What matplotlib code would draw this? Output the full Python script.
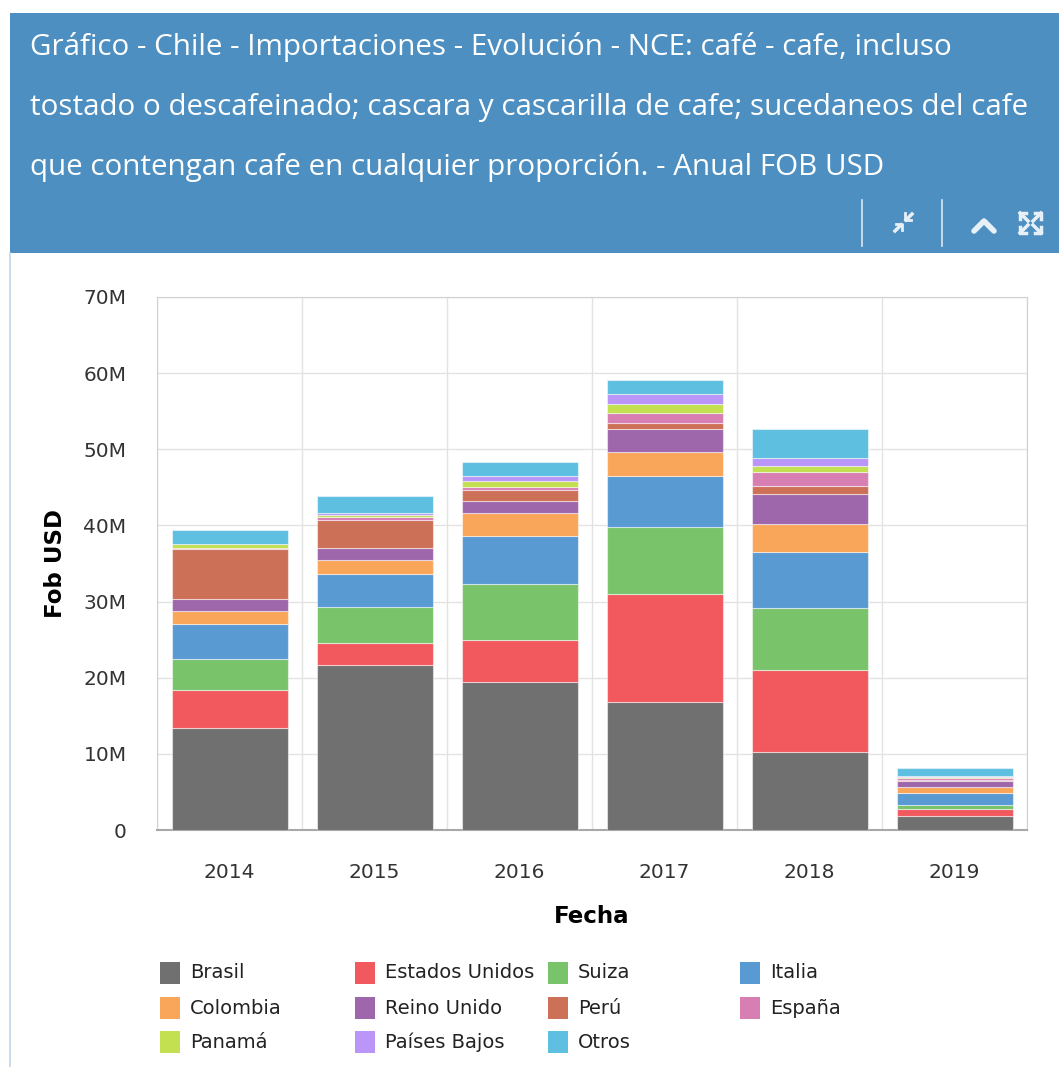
import numpy as np
import matplotlib
matplotlib.use("Agg")
import matplotlib.pyplot as plt
from matplotlib.patches import Rectangle
from matplotlib.lines import Line2D

# data (millions of USD FOB)
years = ["2014", "2015", "2016", "2017", "2018", "2019"]
countries = ["Brasil", "Estados Unidos", "Suiza", "Italia", "Colombia", "Reino Unido",
             "Perú", "España", "Panamá", "Países Bajos", "Otros"]
brasil = [13.4, 21.7, 19.4, 16.85, 10.2, 1.9]
estados_unidos = [5.0, 2.9, 5.6, 14.15, 10.8, 0.8]
suiza = [4.1, 4.7, 7.3, 8.75, 8.2, 0.6]
italia = [4.5, 4.3, 6.3, 6.75, 7.3, 1.5]
colombia = [1.8, 1.8, 3.0, 3.2, 3.7, 0.9]
reino_unido = [1.6, 1.6, 1.6, 3.0, 3.9, 0.7]
peru = [6.5, 3.7, 1.5, 0.8, 1.1, 0.2]
espana = [0.2, 0.4, 0.4, 1.3, 1.8, 0.2]
panama = [0.4, 0.3, 0.8, 1.1, 0.8, 0.2]
paises_bajos = [0.1, 0.2, 0.6, 1.3, 1.0, 0.1]
otros = [1.8, 2.3, 1.8, 1.9, 3.9, 1.0]
series = [brasil, estados_unidos, suiza, italia, colombia, reino_unido,
          peru, espana, panama, paises_bajos, otros]
colors = ["#707070", "#f1595f", "#79c36a", "#599ad3", "#f9a65a", "#9e66ab",
          "#cd7058", "#d77fb3", "#c2e04f", "#b996f7", "#5fbfe0"]

title_lines = ["Gráfico - Chile - Importaciones - Evolución - NCE: café - cafe, incluso",
               "tostado o descafeinado; cascara y cascarilla de cafe; sucedaneos del cafe",
               "que contengan cafe en cualquier proporción. - Anual FOB USD"]

W, H = 1059, 1067
fig = plt.figure(figsize=(W / 100, H / 100), dpi=100)
fig.patch.set_facecolor("white")

def fx(px):
    return px / W

def fy(py):
    return 1 - py / H

# header band
fig.add_artist(Rectangle((fx(10), fy(253)), fx(1049), (253 - 13) / H,
                         transform=fig.transFigure, color="#4e8fc1", lw=0))
fig.add_artist(Line2D([fx(10), fx(10)], [fy(253), 0], transform=fig.transFigure,
                      color="#c3d6e8", lw=1.2))
for i, line in enumerate(title_lines):
    fig.text(fx(30), fy(47 + 60 * i), line, color="white", fontsize=21.3,
             family="Open Sans", va="center", ha="left")

# header icons
for sx in (862, 942):
    fig.add_artist(Line2D([fx(sx), fx(sx)], [fy(200), fy(246)], transform=fig.transFigure,
                          color="#dbe7f2", lw=1.2))
ic = "#e8f0f7"
# compress
fig.add_artist(Line2D([fx(895), fx(901)], [fy(231), fy(225)], transform=fig.transFigure, color=ic, lw=2.5))
fig.add_artist(Line2D([fx(906), fx(912)], [fy(220), fy(214)], transform=fig.transFigure, color=ic, lw=2.5))
fig.add_artist(Line2D([fx(896), fx(902), fx(902)], [fy(224), fy(224), fy(230)], transform=fig.transFigure, color=ic, lw=2))
fig.add_artist(Line2D([fx(905), fx(905), fx(911)], [fy(213), fy(220), fy(220)], transform=fig.transFigure, color=ic, lw=2))
# caret
fig.add_artist(Line2D([fx(974), fx(984), fx(994)], [fy(231), fy(221), fy(231)], transform=fig.transFigure,
                      color=ic, lw=4, solid_capstyle="round", solid_joinstyle="round"))
# expand
for (cx, cy, dx, dy) in [(1020, 213, 1, 1), (1041, 213, -1, 1), (1020, 233, 1, -1), (1041, 233, -1, -1)]:
    fig.add_artist(Line2D([fx(cx), fx(cx + 8 * dx)], [fy(cy), fy(cy + 8 * dy)],
                          transform=fig.transFigure, color=ic, lw=2.5))
    fig.add_artist(Line2D([fx(cx + 6 * dx), fx(cx), fx(cx)], [fy(cy), fy(cy), fy(cy + 6 * dy)],
                          transform=fig.transFigure, color=ic, lw=2.5))

# chart
ax = fig.add_axes([fx(157), 1 - 830 / H, (1027 - 157) / W, (830 - 297) / H])
x = np.arange(len(years))
bottom = np.zeros(len(years))
for name, vals, c in zip(countries, series, colors):
    vals = np.array(vals)
    ax.bar(x, vals, 0.8, bottom=bottom, color=c, edgecolor=(1, 1, 1, 0.5), linewidth=0.8, zorder=3)
    bottom += vals

ax.set_xlim(-0.5, len(years) - 0.5)
ax.set_ylim(0, 70)
ax.set_yticks(range(0, 71, 10))
ax.set_yticklabels(["0"] + ["%dM" % v for v in range(10, 71, 10)])
ax.set_xticks(x)
ax.set_xticklabels(years)
ax.set_xticks(np.arange(-0.5, len(years), 1), minor=True)
ax.grid(True, axis="y", color="#e3e3e3", lw=1, zorder=0)
ax.grid(True, axis="x", which="minor", color="#e3e3e3", lw=1, zorder=0)
ax.tick_params(axis="both", which="both", length=0, labelsize=14.5, colors="#333333")
ax.tick_params(axis="y", pad=22)
ax.tick_params(axis="x", pad=24)
for s in ("top", "right", "left"):
    ax.spines[s].set_color("#d0d0d0")
ax.spines["bottom"].set_color("#a8a8a8")
ax.spines["bottom"].set_linewidth(1.5)

ax.set_ylabel("Fob USD", fontsize=16.5, fontweight="bold", color="black")
ax.yaxis.set_label_coords(-0.103, 0.5)
ax.set_xlabel("Fecha", fontsize=16.5, fontweight="bold", color="black")
ax.xaxis.set_label_coords(0.5, -0.14)

# legend, row by row in four columns
col_x = [160, 355, 548, 740]
row_y = [973, 1008, 1042]
for i, (name, c) in enumerate(zip(countries, colors)):
    px = col_x[i % 4]
    py = row_y[i // 4]
    fig.add_artist(Rectangle((fx(px), fy(py + 11)), 20 / W, 22 / H,
                             transform=fig.transFigure, color=c, lw=0))
    fig.text(fx(px + 30), fy(py), name, fontsize=14, va="center", ha="left", color="#222222")

fig.savefig("out.png", dpi=100)
